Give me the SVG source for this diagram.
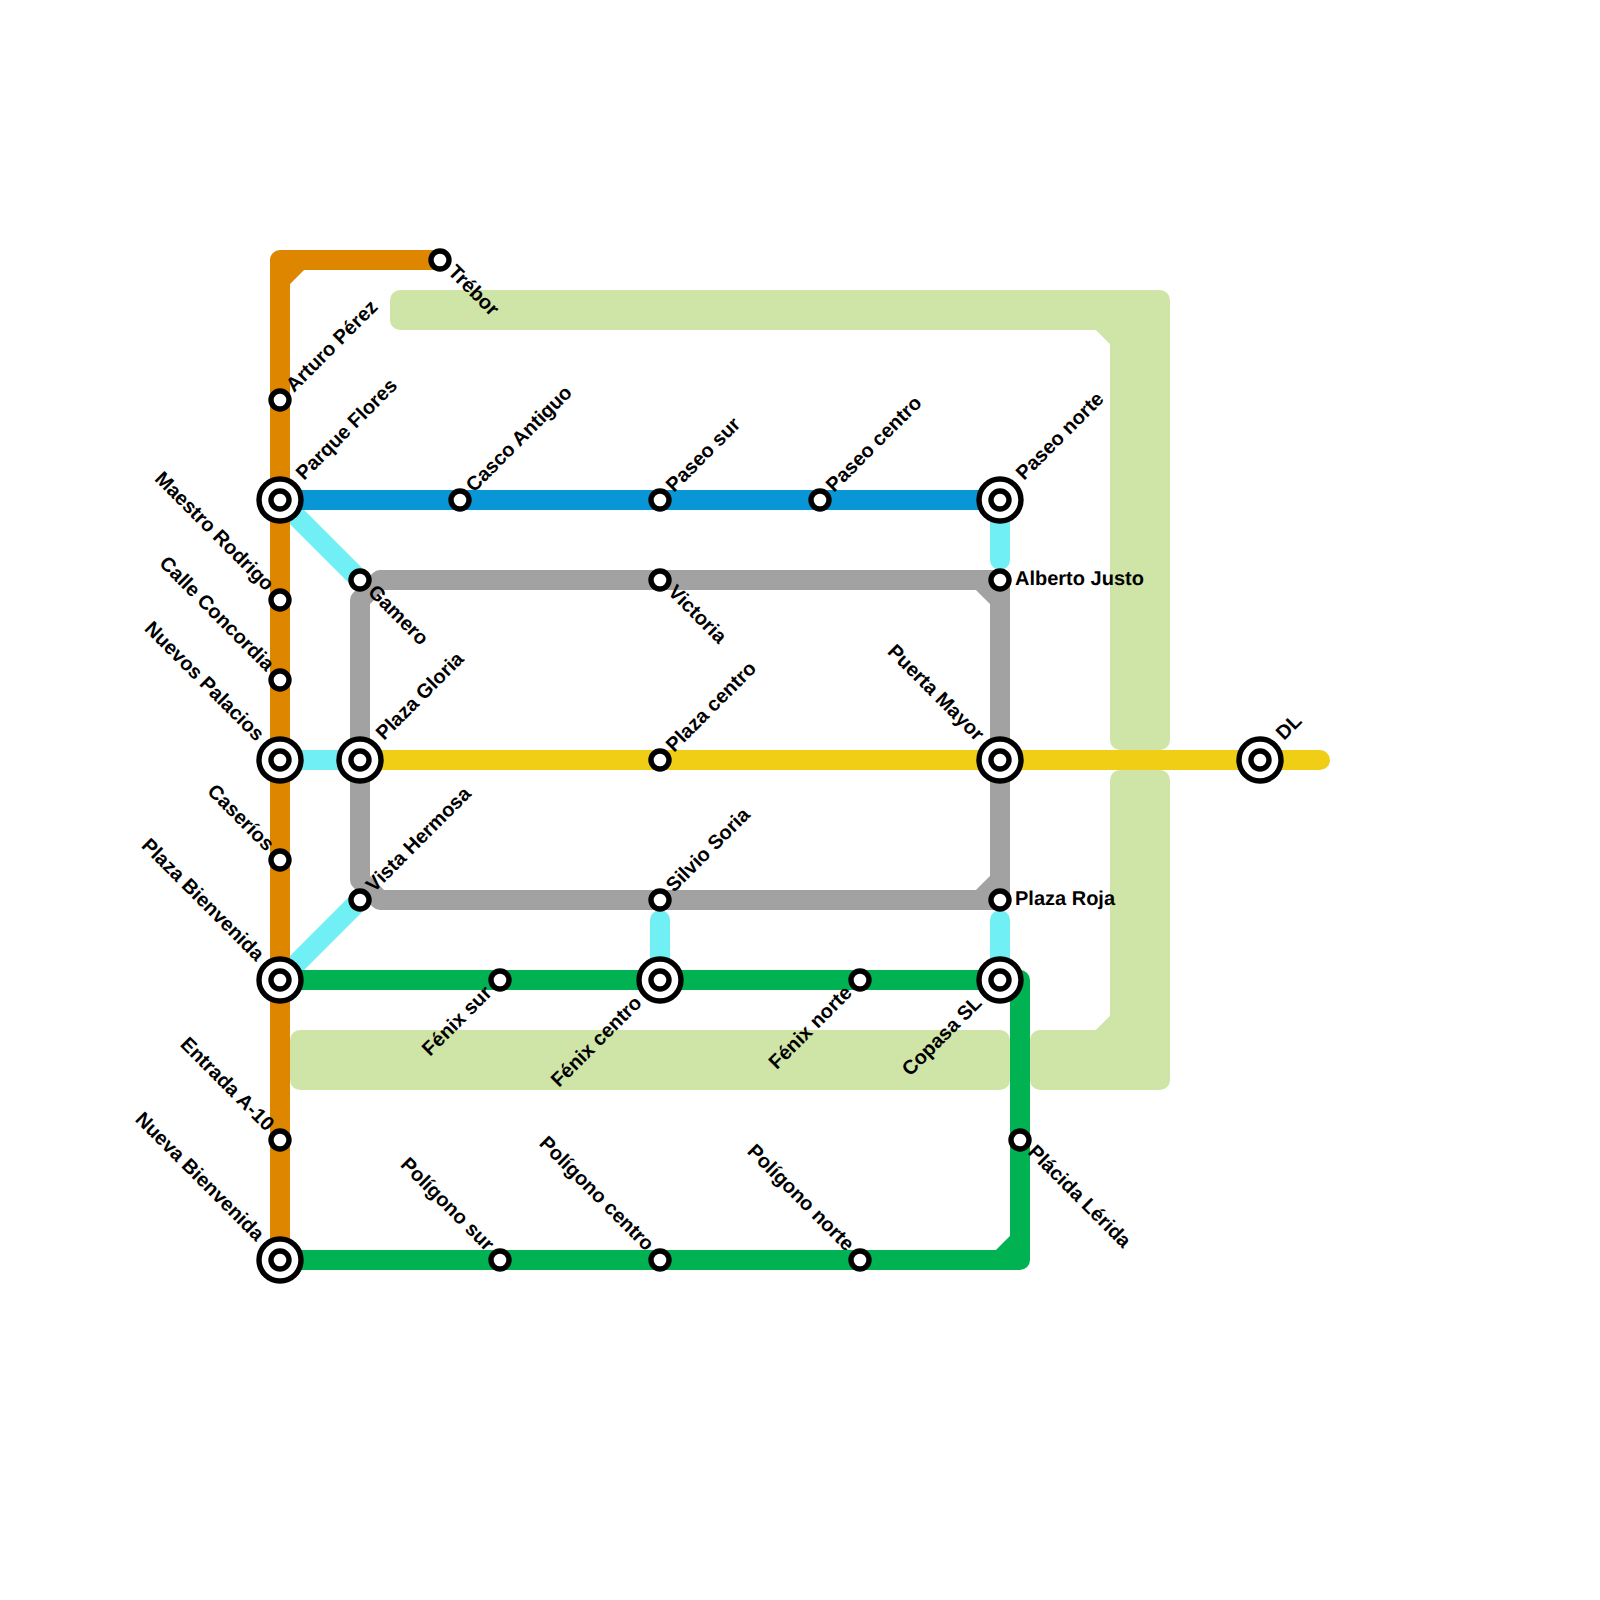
<svg xmlns="http://www.w3.org/2000/svg" width="1600" height="1600" viewBox="0 0 1600 1600">
<style>
.l{fill:none;stroke-width:20;stroke-linecap:round;stroke-linejoin:round}
.s{fill:#fff;stroke:#000;stroke-width:5.4}
.p{fill:#cfe4a7}
text{font-family:"Liberation Sans",Arial,sans-serif;font-weight:700;font-size:20px;fill:#000;text-rendering:geometricPrecision}
.e{text-anchor:end}
</style>
<defs>
<g id="st"><circle class="s" r="9"/></g>
<g id="bg"><circle class="s" r="21"/><circle class="s" r="9"/></g>
</defs>
<rect width="1600" height="1600" fill="#fff"/>
<g id="connectors">
<path class="p" d="M400 290H1160A10 10 0 0 1 1170 300V740A10 10 0 0 1 1160 750H1120A10 10 0 0 1 1110 740V344.14L1095.86 330H400A10 10 0 0 1 390 320V300A10 10 0 0 1 400 290Z"/>
<path class="p" d="M1120 770H1160A10 10 0 0 1 1170 780V1080A10 10 0 0 1 1160 1090H1040A10 10 0 0 1 1030 1080V1040A10 10 0 0 1 1040 1030H1095.86L1110 1015.86V780A10 10 0 0 1 1120 770Z"/>
<rect class="p" x="290" y="1030" width="720" height="60" rx="10"/>
<path class="l" stroke="#70eff5" d="M280 500L360 580M280 760H360M360 900L280 980M660 920V980M1000 500V560M1000 920V980"/>
<path class="l" stroke="#a2a2a2" d="M380 580H1000V900H380L360 880V600L380 580M980 580L1000 600M980 900L1000 880"/>
<path class="l" stroke="#f0ce15" d="M360 760H1320"/>
<path class="l" stroke="#00b251" d="M280 980H1020V1260H280M1000 1260L1020 1240"/>
<path class="l" stroke="#0896d7" d="M280 500H1000"/>
<path class="l" stroke="#df8600" d="M280 1260V260H440M280 280L300 260"/>
</g>
<g id="n-arturo"><use href="#st" x="280" y="400"/><text transform="translate(294 393) rotate(-45)">Arturo Pérez</text></g>
<g id="n-parque"><use href="#bg" x="280" y="500"/><text transform="translate(304 481) rotate(-45)">Parque Flores</text></g>
<g id="n-maestro"><use href="#st" x="280" y="600"/><text class="e" transform="translate(266 592) rotate(45)">Maestro Rodrigo</text></g>
<g id="n-concordia"><use href="#st" x="280" y="680"/><text class="e" transform="translate(266 672) rotate(45)">Calle Concordia</text></g>
<g id="n-nuevos"><use href="#bg" x="280" y="760"/><text class="e" transform="translate(256 742) rotate(45)">Nuevos Palacios</text></g>
<g id="n-caserios"><use href="#st" x="280" y="860"/><text class="e" transform="translate(266 852) rotate(45)">Caseríos</text></g>
<g id="n-bienvenida"><use href="#bg" x="280" y="980"/><text class="e" transform="translate(256 962) rotate(45)">Plaza Bienvenida</text></g>
<g id="n-entrada"><use href="#st" x="280" y="1140"/><text class="e" transform="translate(266 1132) rotate(45)">Entrada A-10</text></g>
<g id="n-nueva"><use href="#bg" x="280" y="1260"/><text class="e" transform="translate(256 1242) rotate(45)">Nueva Bienvenida</text></g>
<g id="n-trebor"><use href="#st" x="440" y="260"/><text transform="translate(447 273) rotate(45)">Trébor</text></g>
<g id="n-casco"><use href="#st" x="460" y="500"/><text transform="translate(474 493) rotate(-45)">Casco Antiguo</text></g>
<g id="n-paseosur"><use href="#st" x="660" y="500"/><text transform="translate(674 493) rotate(-45)">Paseo sur</text></g>
<g id="n-paseocentro"><use href="#st" x="820" y="500"/><text transform="translate(834 493) rotate(-45)">Paseo centro</text></g>
<g id="n-paseonorte"><use href="#bg" x="1000" y="500"/><text transform="translate(1024 481) rotate(-45)">Paseo norte</text></g>
<g id="n-gamero"><use href="#st" x="360" y="580"/><text transform="translate(367 593) rotate(45)">Gamero</text></g>
<g id="n-victoria"><use href="#st" x="660" y="580"/><text transform="translate(667 593) rotate(45)">Victoria</text></g>
<g id="n-alberto"><use href="#st" x="1000" y="580"/><text x="1015" y="585">Alberto Justo</text></g>
<g id="n-gloria"><use href="#bg" x="360" y="760"/><text transform="translate(384 741) rotate(-45)">Plaza Gloria</text></g>
<g id="n-plazacentro"><use href="#st" x="660" y="760"/><text transform="translate(674 753) rotate(-45)">Plaza centro</text></g>
<g id="n-puerta"><use href="#bg" x="1000" y="760"/><text class="e" transform="translate(976 742) rotate(45)">Puerta Mayor</text></g>
<g id="n-dl"><use href="#bg" x="1260" y="760"/><text transform="translate(1284 741) rotate(-45)">DL</text></g>
<g id="n-vista"><use href="#st" x="360" y="900"/><text transform="translate(374 893) rotate(-45)">Vista Hermosa</text></g>
<g id="n-silvio"><use href="#st" x="660" y="900"/><text transform="translate(674 893) rotate(-45)">Silvio Soria</text></g>
<g id="n-roja"><use href="#st" x="1000" y="900"/><text x="1015" y="905">Plaza Roja</text></g>
<g id="n-fenixsur"><use href="#st" x="500" y="980"/><text class="e" transform="translate(493 994) rotate(-45)">Fénix sur</text></g>
<g id="n-fenixcentro"><use href="#bg" x="660" y="980"/><text class="e" transform="translate(643 1004) rotate(-45)">Fénix centro</text></g>
<g id="n-fenixnorte"><use href="#st" x="860" y="980"/><text class="e" transform="translate(853 994) rotate(-45)">Fénix norte</text></g>
<g id="n-copasa"><use href="#bg" x="1000" y="980"/><text class="e" transform="translate(983 1004) rotate(-45)">Copasa SL</text></g>
<g id="n-placida"><use href="#st" x="1020" y="1140"/><text transform="translate(1027 1153) rotate(45)">Plácida Lérida</text></g>
<g id="n-polsur"><use href="#st" x="500" y="1260"/><text class="e" transform="translate(486 1252) rotate(45)">Polígono sur</text></g>
<g id="n-polcentro"><use href="#st" x="660" y="1260"/><text class="e" transform="translate(646 1252) rotate(45)">Polígono centro</text></g>
<g id="n-polnorte"><use href="#st" x="860" y="1260"/><text class="e" transform="translate(846 1252) rotate(45)">Polígono norte</text></g>
</svg>
